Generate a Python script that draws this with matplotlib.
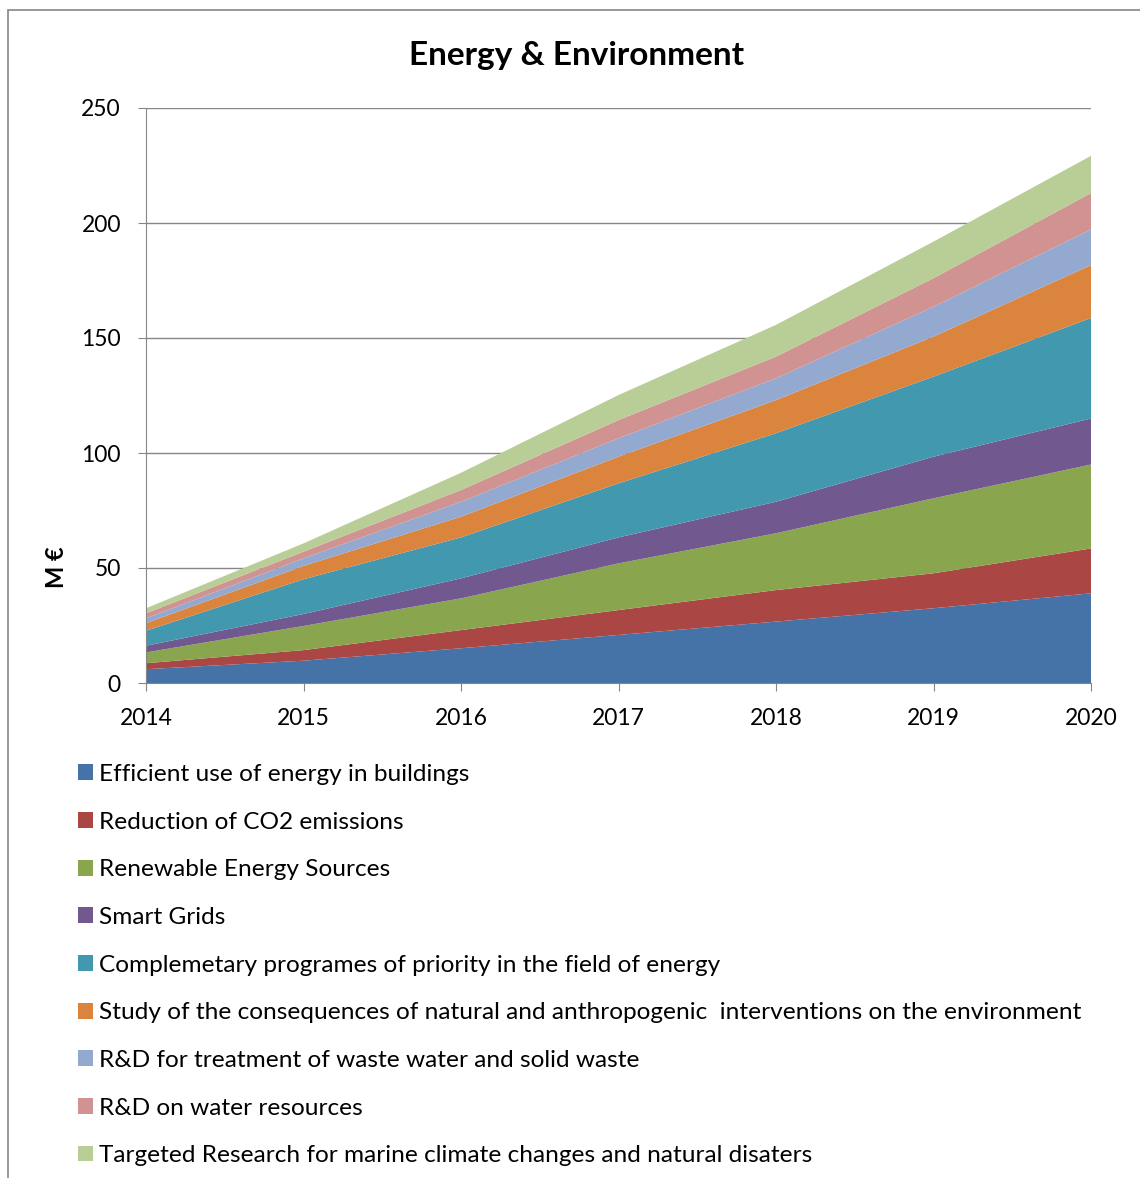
import matplotlib
matplotlib.use("Agg")
import matplotlib.pyplot as plt
from matplotlib.patches import Rectangle

plt.rcParams['font.family'] = ['Lato', 'DejaVu Sans']

years = [2014, 2015, 2016, 2017, 2018, 2019, 2020]

labels = [
    "Efficient use of energy in buildings",
    "Reduction of CO2 emissions",
    "Renewable Energy Sources",
    "Smart Grids",
    "Complemetary programes of priority in the field of energy",
    "Study of the consequences of natural and anthropogenic  interventions on the environment",
    "R&D for treatment of waste water and solid waste",
    "R&D on water resources",
    "Targeted Research for marine climate changes and natural disaters",
]

# M euro per year
buildings = [6.0, 9.7, 15.1, 20.9, 26.7, 32.5, 39.0]
co2 = [2.6, 4.6, 7.9, 10.8, 13.7, 15.2, 19.5]
renewable = [4.7, 10.5, 13.8, 20.3, 24.7, 32.6, 36.5]
smart_grids = [2.9, 5.2, 8.7, 11.3, 13.7, 18.1, 20.0]
complementary = [6.5, 15.1, 17.8, 23.5, 29.8, 34.8, 43.7]
consequences = [3.3, 5.8, 9.0, 11.6, 14.4, 17.4, 23.0]
waste = [2.1, 3.3, 6.5, 8.0, 9.5, 13.0, 15.5]
water = [2.2, 2.9, 5.1, 7.9, 9.4, 12.4, 15.8]
marine = [2.2, 3.6, 7.5, 10.9, 13.8, 15.9, 16.2]

series = [buildings, co2, renewable, smart_grids, complementary,
          consequences, waste, water, marine]

colors = ["#4572A7", "#AA4643", "#89A54E", "#71588F", "#4198AF",
          "#DB843D", "#93A9CF", "#D19392", "#B9CD96"]

fig = plt.figure(figsize=(11.4, 11.78), dpi=100)
W, H = 1140, 1178

# outer chart frame
fig.patches.append(Rectangle((8 / W, -0.01), 1.2, 1 - 10 / H + 0.01,
                             transform=fig.transFigure, fill=False,
                             edgecolor="#868686", linewidth=1.2))

ax = fig.add_axes([146 / W, 1 - 683 / H, (1091 - 146) / W, (683 - 108) / H])

ax.stackplot(years, *series, colors=colors, labels=labels, linewidth=0)

ax.set_xlim(2014, 2020)
ax.set_ylim(0, 250)
ax.set_xticks(years)
ax.set_yticks([0, 50, 100, 150, 200, 250])
ax.yaxis.grid(True, color="#868686", linewidth=1)
ax.set_axisbelow(True)
for s in ["top", "right"]:
    ax.spines[s].set_visible(False)
for s in ["left", "bottom"]:
    ax.spines[s].set_color("#868686")
ax.tick_params(axis="both", colors="#868686", labelcolor="black",
               labelsize=16.5, length=6, direction="out")
ax.tick_params(axis="x", pad=12)
ax.tick_params(axis="y", pad=12)

fig.text(57 / W, 1 - 567 / H, "M €", fontsize=17, fontweight="bold",
         rotation=90, ha="center", va="center")
fig.text(577 / W, 1 - 55 / H, "Energy & Environment", fontsize=24,
         fontweight="bold", ha="center", va="center")

handles, labs = ax.get_legend_handles_labels()
fig.legend(handles, labs, loc="upper left",
           bbox_to_anchor=(78 / W, 1 - 764 / H), frameon=False,
           fontsize=17.6, labelspacing=1.09, handlelength=0.62,
           handleheight=0.62, handletextpad=0.25, borderaxespad=0,
           borderpad=0)

fig.savefig("out.png", dpi=100)
